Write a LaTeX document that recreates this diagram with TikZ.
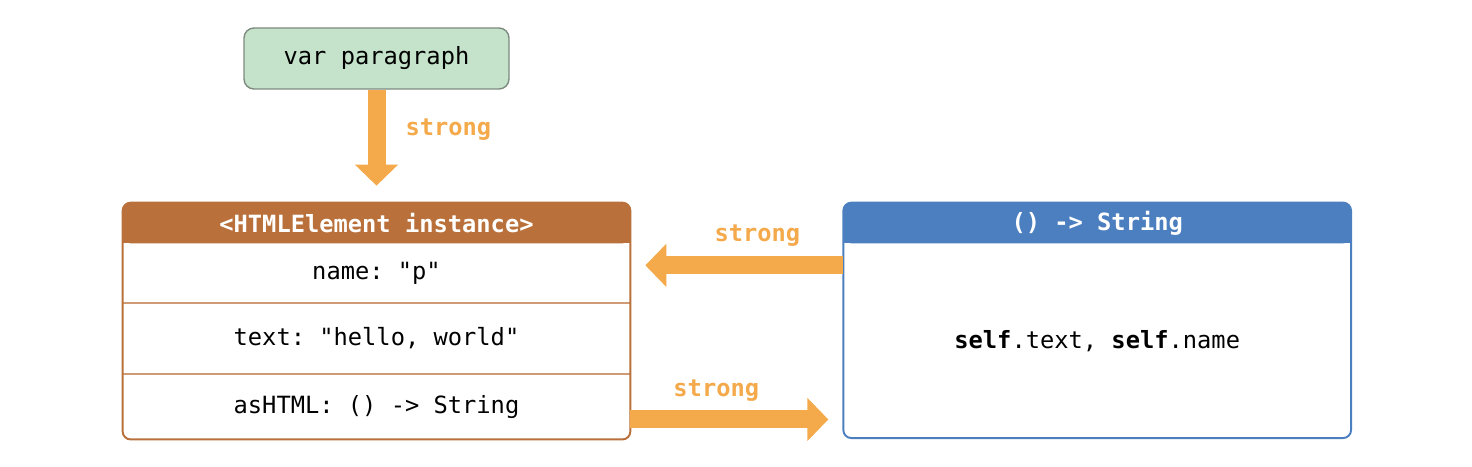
\documentclass[tikz,border=0pt]{standalone}
\usepackage{fontspec}
\setmonofont{DejaVu Sans Mono}
\usepackage{tikz}
\usetikzlibrary{arrows.meta, positioning, calc, backgrounds}

\definecolor{paragreen}{HTML}{C4E3CA}
\definecolor{paraedge}{HTML}{7E8A80}
\definecolor{elembrown}{HTML}{B9703A}
\definecolor{closblue}{HTML}{4C7FBF}
\definecolor{strongorange}{HTML}{F4A94B}

\begin{document}
\begin{tikzpicture}[
    font=\ttfamily\fontsize{13.5}{16}\selectfont,
    varbox/.style={draw=paraedge, line width=0.8pt, rectangle, rounded corners=0.2cm, fill=paragreen, minimum width=5.3cm, minimum height=1.22cm},
    headbox/.style={rectangle, minimum width=10.14cm, minimum height=0.8cm, text=white, font=\ttfamily\bfseries\fontsize{13.5}{16}\selectfont},
    rowbox/.style={rectangle, minimum width=10.14cm, inner sep=0pt},
    strongarrow/.style={draw=strongorange, line width=0.36cm, -{Triangle[length=0.42cm, width=0.84cm]}},
    strongtext/.style={text=strongorange, inner sep=0pt, font=\ttfamily\bfseries\fontsize{13.5}{16}\selectfont}
]
\useasboundingbox (0,0) rectangle (29.44,9.32);
\node[varbox] (para) at (7.53,8.15) {var paragraph};
\node[headbox] (elemhead) at (7.53,4.86) {<HTMLElement instance>};
\node[rowbox, minimum height=1.18cm, below=0pt of elemhead] (rowname) {name: "p"};
\node[rowbox, minimum height=1.4cm, below=0pt of rowname] (rowtext) {text: "hello, world"};
\node[rowbox, minimum height=1.3cm, below=0pt of rowtext] (rowhtml) {asHTML: () -> String};
\node[headbox, right=4.26cm of elemhead] (closhead) {() -> String};
\node[rowbox, minimum height=3.88cm, below=0pt of closhead] (closbody) {\textbf{self}.text, \textbf{self}.name};
% header fills, square at the bottom
\begin{scope}[on background layer]
  \foreach \h/\c in {elemhead/elembrown, closhead/closblue} {
    \fill[\c, rounded corners=0.16cm] (\h.south west) rectangle (\h.north east);
    \fill[\c] (\h.south west) rectangle (\h.east);
  }
\end{scope}
\foreach \r in {rowname, rowtext}
  \draw[elembrown!70, line width=1pt] (\r.south west) -- (\r.south east);
\draw[elembrown, line width=1.1pt, rounded corners=0.16cm] (elemhead.north west) rectangle (rowhtml.south east);
\draw[closblue, line width=1.1pt, rounded corners=0.16cm] (closhead.north west) rectangle (closbody.south east);
% strong references
\coordinate[above=0.34cm of elemhead] (paratip);
\coordinate[below=0.44cm of closbody.north west] (closout);
\coordinate (elemin) at ($(elemhead.east |- closout)+(0.3,0)$);
\coordinate[above=0.4cm of rowhtml.south east] (elemout);
\coordinate (closin) at ($(closbody.west |- elemout)+(-0.3,0)$);
\draw[strongarrow] (para) -- (paratip) node[strongtext, pos=0.42, right=0.4cm] {strong};
\draw[strongarrow] (closout) -- (elemin) node[strongtext, pos=0.434, above=0.2cm] {strong};
\draw[strongarrow] (elemout) -- (closin) node[strongtext, pos=0.434, above=0.18cm] {strong};
\end{tikzpicture}
\end{document}
